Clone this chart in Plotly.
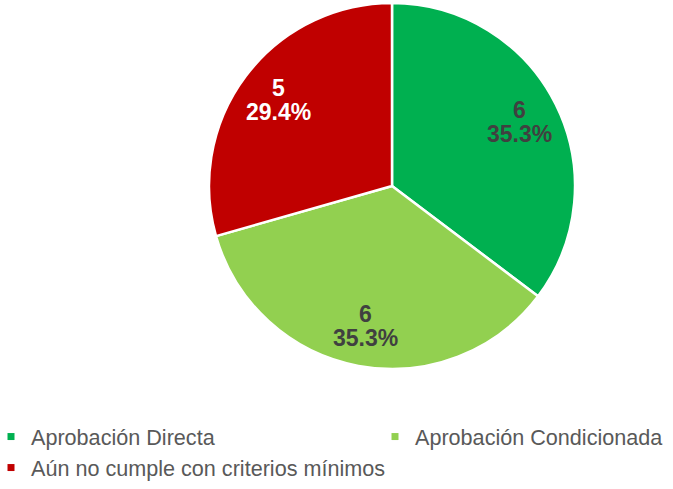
import numpy as np
import plotly.graph_objects as go

categories = ["Aprobación Directa", "Aprobación Condicionada", "Aún no cumple con criterios mínimos"]
values = [6, 6, 5]
colors = ["#00B050", "#92D050", "#C00000"]
label_colors = ["#404040", "#404040", "#FFFFFF"]

W, H = 673, 489
FONT = "Arial, Liberation Sans, sans-serif"


def X(px):
    return px / W


def Y(py):
    return 1 - py / H


cx_px, cy_px, r_px = 392, 186, 183

fig = go.Figure()
fig.add_trace(go.Pie(
    labels=categories, values=values, sort=False, direction="clockwise", rotation=0,
    marker=dict(colors=colors, line=dict(color="#FFFFFF", width=2.5)),
    textinfo="none", hoverinfo="label+value+percent", showlegend=False,
    domain=dict(x=[X(cx_px - r_px), X(cx_px + r_px)],
                y=[max(0, Y(cy_px + r_px)), min(1, Y(cy_px - r_px))]),
))

# data labels placed along each slice's mid angle (two lines, tight spacing)
vals = np.array(values, dtype=float)
fr = vals / vals.sum()
starts = np.concatenate([[0], np.cumsum(fr)[:-1]])
mids = (starts + fr / 2) * 2 * np.pi
for v, f, a, c in zip(values, fr, mids, label_colors):
    rr = 0.78 * r_px
    px = cx_px + rr * np.sin(a)
    py = cy_px - rr * np.cos(a)
    for txt, off in ((f"<b>{v}</b>", -12), (f"<b>{f*100:.1f}%</b>", 12)):
        fig.add_annotation(x=X(px), y=Y(py + off), xref="paper", yref="paper",
                           showarrow=False, text=txt, yanchor="middle", xanchor="center",
                           font=dict(family=FONT, size=23, color=c))

legend_names = ["legend", "legend2", "legend3"]
for cat, col, lg in zip(categories, colors, legend_names):
    fig.add_trace(go.Scatter(x=[None], y=[None], mode="markers", name=cat, legend=lg,
                             marker=dict(symbol="square", size=7, color=col)))

leg_common = dict(xanchor="left", indentation=-15,
                  font=dict(family=FONT, size=21.6, color="#595959"),
                  bgcolor="rgba(0,0,0,0)", itemwidth=30)
fig.update_layout(
    width=W, height=H, margin=dict(l=0, r=0, t=0, b=0),
    paper_bgcolor="white", plot_bgcolor="white",
    xaxis=dict(visible=False), yaxis=dict(visible=False),
    legend=dict(x=X(6), y=Y(437), yanchor="middle", **leg_common),
    legend2=dict(x=X(390), y=Y(437), yanchor="middle", **leg_common),
    legend3=dict(x=X(6), y=0, yanchor="bottom", **leg_common),
)
fig.write_html("out.html", config={"displayModeBar": False},
               post_script="document.body.style.margin='0';")
